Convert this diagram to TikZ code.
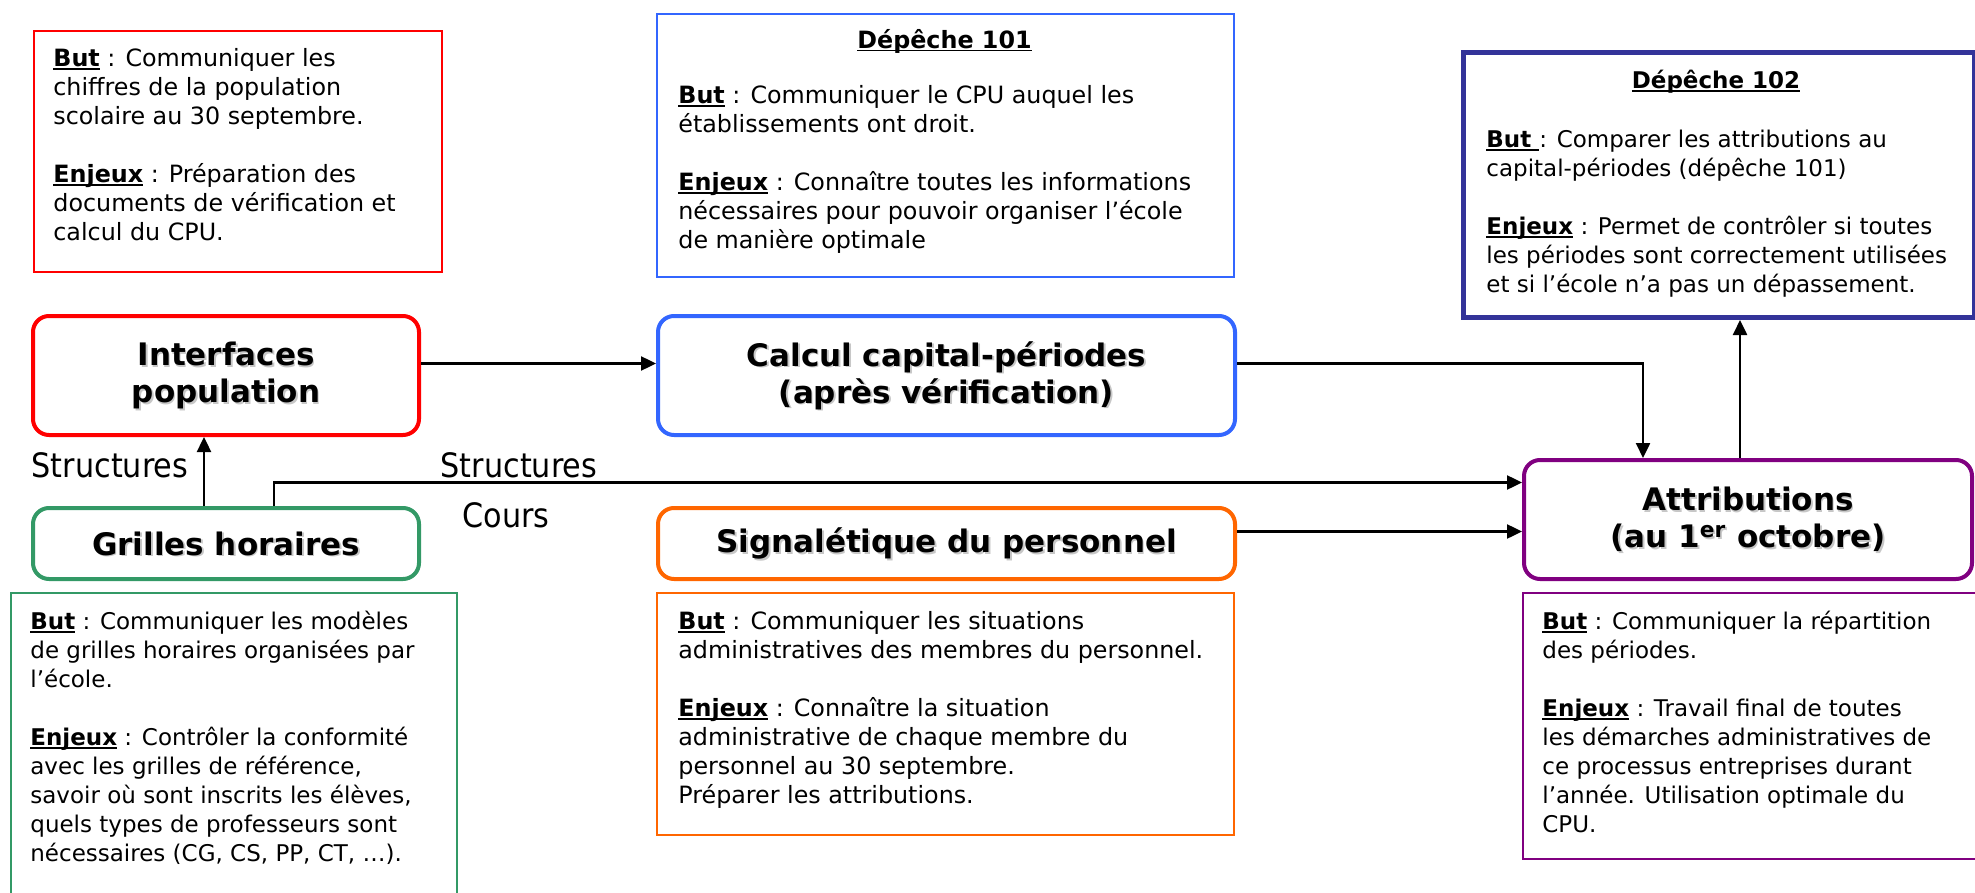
\documentclass[tikz,border=0pt]{standalone}
\usepackage{fontspec}
\setmainfont{DejaVu Sans}[FakeStretch=0.9]
\newfontfamily\verd{DejaVu Sans}
\usetikzlibrary{arrows.meta,calc}
\definecolor{cRed}{HTML}{FF0000}
\definecolor{cBlue}{HTML}{3366FF}
\definecolor{cNavy}{HTML}{333399}
\definecolor{cPurple}{HTML}{800080}
\definecolor{cGreen}{HTML}{339966}
\definecolor{cOrange}{HTML}{FF6600}
\newsavebox\labbox
\newcommand\lab[1]{\sbox\labbox{\textbf{#1}}\leavevmode\rlap{\rule[-0.14em]{\wd\labbox}{0.075em}}\usebox\labbox}
\tikzset{
  infobox/.style={draw=#1, line width=1pt, rectangle, inner sep=0pt, anchor=north west},
  procbox/.style={draw=#1, line width=2pt, rounded corners=8pt, rectangle, inner sep=0pt, anchor=north west},
  bodyT/.style={anchor=north west, inner sep=0pt, align=left, font=\verd\fontsize{11.9}{14.5}\selectfont},
  bodyV/.style={anchor=north west, inner sep=0pt, align=left, font=\verd\fontsize{11.5}{14.5}\selectfont},
  headT/.style={inner sep=0pt, font=\verd\fontsize{11.9}{14.5}\selectfont},
  headV/.style={inner sep=0pt, font=\verd\fontsize{11.5}{14.5}\selectfont},
  titletext/.style={inner sep=0pt, align=center, font=\verd\fontsize{15.5}{18.5}\selectfont\bfseries},
  shadowtext/.style={titletext, text=black!22},
  lbl/.style={inner sep=0pt, font=\fontsize{16.8}{19}\selectfont},
  conn/.style={line width=1.2pt, -{Triangle[length=7.5pt,width=7pt]}},
}
\begin{document}
\begin{tikzpicture}[x=0.5pt,y=-0.5pt]
\useasboundingbox (0,0) rectangle (1975,893);

% info boxes
\node[infobox=cRed, minimum width=204pt, minimum height=120.5pt] (popinfo) at (33,30) {};
\node[bodyT] (popinfoT) at (53,48) {\lab{But} : Communiquer les\\chiffres de la population\\scolaire au 30 septembre.\\[14.5pt]\lab{Enjeux} : Préparation des\\documents de vérification et\\calcul du CPU.};

\node[infobox=cBlue, minimum width=288.5pt, minimum height=131.5pt] (d101) at (656,13) {};
\node[headT] (d101H) at (944.5,41) {\lab{Dépêche 101}};
\node[bodyT] (d101T) at (678,85) {\lab{But} : Communiquer le CPU auquel les\\établissements ont droit.\\[14.5pt]\lab{Enjeux} : Connaître toutes les informations\\nécessaires pour pouvoir organiser l’école\\de manière optimale};

\node[infobox=cNavy, line width=2.5pt, minimum width=255.5pt, minimum height=132.5pt] (d102) at (1461,50) {};
\node[headV] (d102H) at (1716,82) {\lab{Dépêche 102}};
\node[bodyV] (d102T) at (1486,130) {\lab{But }: Comparer les attributions au\\capital-périodes (dépêche 101)\\[14.5pt]\lab{Enjeux} : Permet de contrôler si toutes\\les périodes sont correctement utilisées\\et si l’école n’a pas un dépassement.};

\node[infobox=cGreen, minimum width=223pt, minimum height=156pt] (grinfo) at (10,592) {};
\node[bodyV] (grinfoT) at (30,611) {\lab{But} : Communiquer les modèles\\de grilles horaires organisées par\\l’école.\\[14.5pt]\lab{Enjeux} : Contrôler la conformité\\avec les grilles de référence,\\savoir où sont inscrits les élèves,\\quels types de professeurs sont\\nécessaires (CG, CS, PP, CT, …).};

\node[infobox=cOrange, minimum width=288.5pt, minimum height=121pt] (siginfo) at (656,592) {};
\node[bodyT] (siginfoT) at (678,611) {\lab{But} : Communiquer les situations\\administratives des membres du personnel.\\[14.5pt]\lab{Enjeux} : Connaître la situation\\administrative de chaque membre du\\personnel au 30 septembre.\\Préparer les attributions.};

\node[infobox=cPurple, minimum width=227pt, minimum height=133pt] (attinfo) at (1522,592) {};
\node[bodyV] (attinfoT) at (1542,611) {\lab{But} : Communiquer la répartition\\des périodes.\\[14.5pt]\lab{Enjeux} : Travail final de toutes\\les démarches administratives de\\ce processus entreprises durant\\l’année. Utilisation optimale du\\CPU.};

% process boxes
\node[procbox=cRed, minimum width=193pt, minimum height=59.5pt] (inter) at (31,314) {};
\node[shadowtext] (interS) at ([xshift=0.9pt,yshift=-0.9pt]inter.center) {Interfaces\\population};
\node[titletext] (interT) at (inter.center) {Interfaces\\population};

\node[procbox=cBlue, minimum width=288.5pt, minimum height=59.5pt] (calc) at (656,314) {};
\node[shadowtext] (calcS) at ([xshift=0.9pt,yshift=-0.9pt]calc.center) {Calcul capital-périodes\\(après vérification)};
\node[titletext] (calcT) at (calc.center) {Calcul capital-périodes\\(après vérification)};

\node[procbox=cGreen, minimum width=193pt, minimum height=35.5pt] (grilles) at (31,506) {};
\node[shadowtext] (grillesS) at ([xshift=0.9pt,yshift=-0.9pt]grilles.center) {Grilles horaires};
\node[titletext] (grillesT) at (grilles.center) {Grilles horaires};

\node[procbox=cOrange, minimum width=288.5pt, minimum height=35.5pt] (sig) at (656,506) {};
\node[shadowtext] (sigS) at ([xshift=0.9pt,yshift=-0.9pt]sig.center) {Signalétique du personnel};
\node[titletext] (sigT) at (sig.center) {Signalétique du personnel};

\node[procbox=cPurple, minimum width=224pt, minimum height=59.5pt] (attr) at (1522,458) {};
\node[shadowtext] (attrS) at ([xshift=0.9pt,yshift=-0.9pt]attr.center) {Attributions\\(au 1\textsuperscript{er} octobre)};
\node[titletext] (attrT) at (attr.center) {Attributions\\(au 1\textsuperscript{er} octobre)};

% labels
\node[lbl] (s1) at (110,465) {Structures};
\node[lbl] (s2) at (519,465) {Structures};
\node[lbl] (c1) at (506,515) {Cours};

% connectors
\draw[conn] ([yshift=6pt]inter.east) -- ([yshift=6pt]calc.west);
\draw[conn] ([yshift=6pt]calc.east) -| ([xshift=-52.5pt]attr.north);
\draw[conn] ([xshift=-4pt]attr.north) -- ([xshift=-4pt]attr.north |- d102.south);
\draw[conn] ([xshift=-11pt]grilles.north) -- ([xshift=-11pt]grilles.north |- inter.south);
\draw[conn] ([xshift=24pt]grilles.north) |- ([yshift=18.5pt]attr.west);
\draw[conn] ([yshift=6pt]sig.east) -- ([yshift=6pt]sig.east -| attr.west);
\end{tikzpicture}
\end{document}
